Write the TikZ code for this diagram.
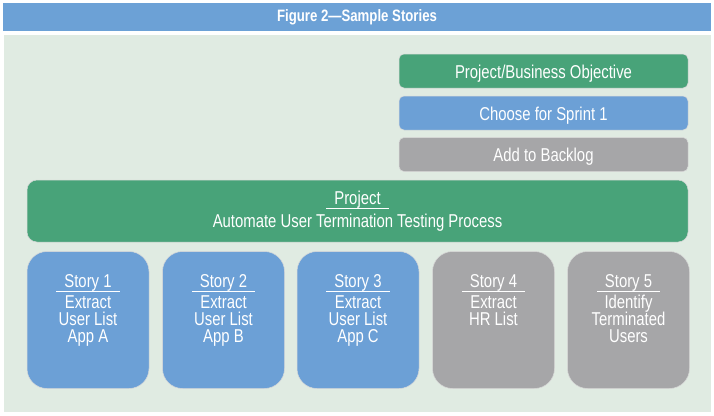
\documentclass[tikz,border=0pt]{standalone}
\usepackage{fontspec}
\setmainfont{Liberation Sans}[FakeStretch=0.80]

\definecolor{titleblue}{RGB}{108,161,214}
\definecolor{bggreen}{RGB}{224,235,226}
\definecolor{boxgreen}{RGB}{72,163,121}
\definecolor{boxblue}{RGB}{108,160,214}
\definecolor{boxgray}{RGB}{166,166,168}

\tikzset{
  keybox/.style={draw=white!85!black, line width=0.5pt, rounded corners=5pt,
    minimum width=289pt, minimum height=34pt, inner sep=0pt, text=white,
    text height=14pt, text depth=0pt, font=\fontsize{18.6}{18.6}\selectfont},
  projectbox/.style={draw=white!85!black, line width=0.5pt, rounded corners=10pt,
    minimum width=661pt, minimum height=62pt, inner sep=0pt, text=white,
    align=center, font=\fontsize{18.6}{19}\selectfont},
  storybox/.style={draw=white!85!black, line width=0.5pt, rounded corners=20pt,
    minimum width=122pt, minimum height=137pt, inner sep=0pt},
  storytext/.style={anchor=north, inner sep=0pt, text=white, align=center,
    font=\fontsize{18.6}{17}\selectfont}
}

% word with a white rule under it
\newcommand\headline[1]{\setbox0\hbox{#1}\leavevmode
  \rlap{\kern-8pt\raisebox{-5pt}{\rule{\dimexpr\wd0+16pt\relax}{1.8pt}}}\box0}

\begin{document}
\setlength{\lineskiplimit}{-6pt}
\begin{tikzpicture}[x=1pt,y=-1pt]
    \useasboundingbox (0,0) rectangle (714,415);
    \fill[titleblue] (3,3) rectangle (711,31);
    \node [text=white, font=\bfseries\fontsize{16.5}{17}\selectfont] (title) at (357,17) {Figure 2---Sample Stories};
    \fill[bggreen] (4,35) rectangle (711,412);

    % key
    \node [keybox, fill=boxgreen] (objective) at (543.5,71) {Project/Business Objective};
    \node [keybox, fill=boxblue] (sprint) at (543.5,113) {Choose for Sprint 1};
    \node [keybox, fill=boxgray] (backlog) at (543.5,154.5) {Add to Backlog};

    % project
    \node [projectbox, fill=boxgreen] (project) at (357.5,211) {\headline{Project}\\[4pt]Automate User Termination Testing Process};

    % stories
    \node [storybox, fill=boxblue] (story1) at (88,320) {};
    \node [storybox, fill=boxblue] (story2) at (223.5,320) {};
    \node [storybox, fill=boxblue] (story3) at (358,320) {};
    \node [storybox, fill=boxgray] (story4) at (493.5,320) {};
    \node [storybox, fill=boxgray] (story5) at (628.5,320) {};
    \node [storytext] (text1) at ([yshift=-23pt]story1.north) {\headline{Story 1}\\[4.5pt]Extract\\User List\\App A};
    \node [storytext] (text2) at ([yshift=-23pt]story2.north) {\headline{Story 2}\\[4.5pt]Extract\\User List\\App B};
    \node [storytext] (text3) at ([yshift=-23pt]story3.north) {\headline{Story 3}\\[4.5pt]Extract\\User List\\App C};
    \node [storytext] (text4) at ([yshift=-23pt]story4.north) {\headline{Story 4}\\[4.5pt]Extract\\HR List};
    \node [storytext] (text5) at ([yshift=-23pt]story5.north) {\headline{Story 5}\\[4.5pt]Identify\\Terminated\\Users};
\end{tikzpicture}
\end{document}
